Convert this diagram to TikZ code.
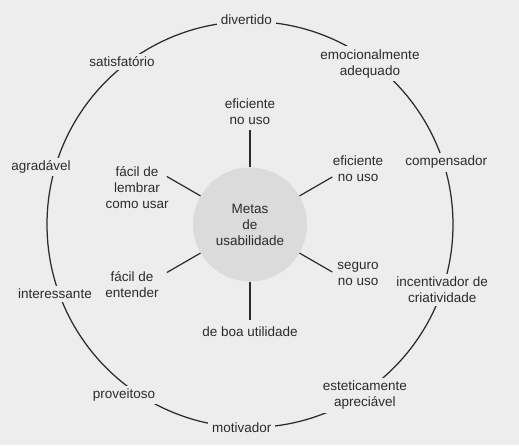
\documentclass[tikz,border=0pt]{standalone}
\usepackage{fontspec}
\setmainfont{Liberation Sans}
\definecolor{paper}{gray}{0.93}
\definecolor{disc}{gray}{0.86}
\definecolor{ink}{gray}{0.17}
\begin{document}
\begin{tikzpicture}[x=1pt,y=1pt,
    every node/.style={font=\fontsize{13.5}{16}\selectfont, text=ink, align=center},
    meta/.style={circle, fill=disc, minimum size=114pt, inner sep=0pt},
    goal/.style={fill=paper, inner xsep=4pt, inner ysep=3pt}]
  \useasboundingbox[fill=paper] (-250,-220.5) rectangle (269,224.5);
  \draw[line width=1.25pt, draw=ink] (0,0) circle (203);
  \node[meta] (meta) at (0,0) {Metas\\de\\usabilidade};
  \draw
    (90:112.5) node (u1){eficiente\\no uso}
    (27.4:121.7) node (u2){eficiente\\no uso}
    (-24.8:119) node (u3){seguro\\no uso}
    (-90:107.5) node (u4){de boa utilidade}
    (-152.9:132.6) node (u5){fácil de\\entender}
    (162.1:118.7) node (u6){fácil de\\lembrar\\como usar};
  \draw
    (90:95) coordinate (t1)
    (30:95) coordinate (t2)
    (-30:95) coordinate (t3)
    (-90:95) coordinate (t4)
    (-150:96) coordinate (t5)
    (150:96) coordinate (t6);
  \begin{scope}[line width=1.2pt, draw=ink]
    \draw (meta) to (t1);
    \draw (meta) to (t2);
    \draw (meta) to (t3);
    \draw (meta) to (t4);
    \draw (meta) to (t5);
    \draw (meta) to (t6);
  \end{scope}
  \begin{scope}[every node/.append style={goal}]
    \draw
      (91:204.5) node (g1){divertido}
      (53.3:200.8) node (g2){emocionalmente\\adequado}
      (17.6:206) node (g3){compensador}
      (-18.8:203) node (g4){incentivador de\\criatividade}
      (-56.1:206) node (g5){esteticamente\\apreciável}
      (-92.3:203.7) node (g6){motivador}
      (-126.5:212) node (g7){proveitoso}
      (-160.4:207) node (g8){interessante}
      (164.6:216.8) node (g9){agradável}
      (128.2:206.9) node (g10){satisfatório};
  \end{scope}
\end{tikzpicture}
\end{document}
